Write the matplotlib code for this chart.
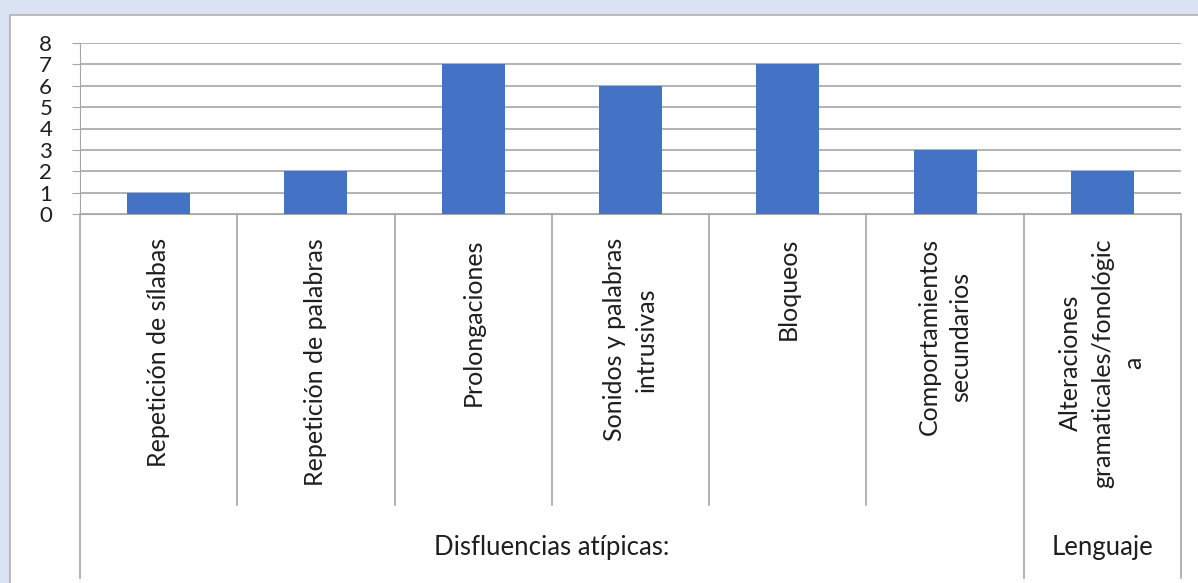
import matplotlib.pyplot as plt
from matplotlib.patches import Rectangle

# ---- Data ----
categories = [
    'Repetición de sílabas',
    'Repetición de palabras',
    'Prolongaciones',
    'Sonidos y palabras\nintrusivas',
    'Bloqueos',
    'Comportamientos\nsecundarios',
    'Alteraciones\ngramaticales/fonológic\na',
]
values = [1, 2, 7, 6, 7, 3, 2]
groups = ['Disfluencias atípicas:', 'Lenguaje']
group_sizes = [6, 1]

plt.rcParams['font.family'] = ['Lato', 'DejaVu Sans']

W, H = 1198, 583
fig = plt.figure(figsize=(W / 100, H / 100), dpi=100, facecolor='#dae3f3')

# white chart box
fig.patches.append(Rectangle((10 / W, -0.1), 1.2, 1 - 15 / H + 0.1,
                             transform=fig.transFigure, facecolor='white',
                             edgecolor='#b0b0b0', linewidth=1.2, zorder=-10))

ax = fig.add_axes([80 / W, 1 - 214 / H, 1101 / W, 171 / H])
ax.patch.set_alpha(0)
n = len(categories)
x = list(range(n))
ax.bar(x, values, width=0.4, color='#4472c4', zorder=3)
ax.set_xlim(-0.5, n - 0.5)
ax.set_ylim(0, 8)
ax.set_yticks(range(0, 9))
ax.tick_params(axis='y', length=6, color='#a6a6a6', labelsize=16, pad=14,
               labelcolor='#1e1e1e')
ax.set_xticks([])
ax.grid(axis='y', color='#a6a6a6', linewidth=1.2, zorder=0)
for s in ['top', 'right']:
    ax.spines[s].set_visible(False)
ax.spines['left'].set_color('#a6a6a6')
ax.spines['bottom'].set_color('#a6a6a6')

# ---- category axis with grouping ----
trans = ax.get_xaxis_transform()
y_cat = (214 - 505) / 171
y_grp = (214 - 578) / 171
for i, lab in enumerate(categories):
    ax.text(i, (214 - 238) / 171, lab, rotation=90, ha='center', va='top',
            multialignment='center', fontsize=18, linespacing=1.45,
            color='#1e1e1e', transform=trans)

bounds = [-0.5]
for g in group_sizes:
    bounds.append(bounds[-1] + g)
for b in [i - 0.5 for i in range(n + 1)]:
    bottom = y_grp if b in bounds else y_cat
    ax.plot([b, b], [0, bottom], color='#a6a6a6', linewidth=1.2,
            transform=trans, clip_on=False)
for gi, g in enumerate(groups):
    centre = (bounds[gi] + bounds[gi + 1]) / 2
    ax.text(centre, (214 - 547) / 171, g, ha='center', va='center',
            fontsize=18.5, color='#1e1e1e', transform=trans)

fig.savefig('out.png', dpi=100, facecolor=fig.get_facecolor())
